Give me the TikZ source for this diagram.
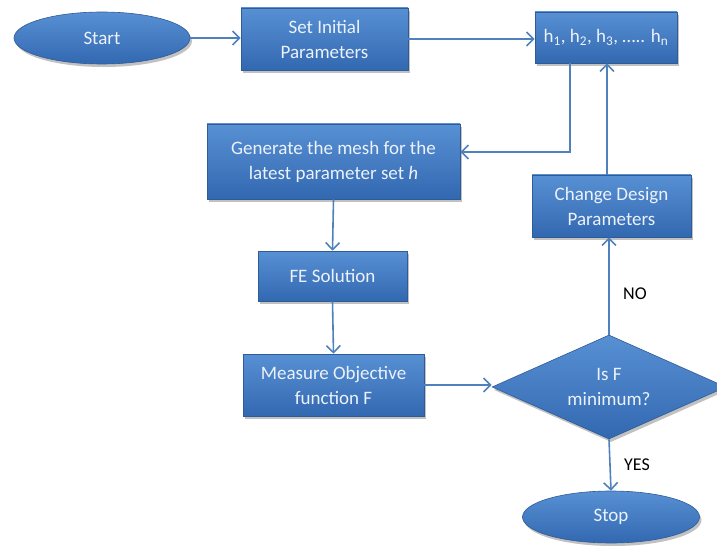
\documentclass[tikz,border=0pt]{standalone}
\usepackage{fontspec}
\setmainfont{Carlito}
\usetikzlibrary{shapes.geometric,arrows.meta,shadows}
\definecolor{boxtop}{RGB}{88,144,212}
\definecolor{boxbot}{RGB}{50,104,176}
\definecolor{boxline}{RGB}{46,92,152}
\definecolor{boxtext}{RGB}{236,242,250}
\definecolor{wire}{RGB}{79,129,189}
\tikzset{
  base/.style={draw=boxline, line width=0.6pt, top color=boxtop, bottom color=boxbot,
    text=boxtext, align=center, inner sep=0pt,
    font=\fontsize{19}{25}\selectfont,
    drop shadow={shadow xshift=2pt, shadow yshift=-3pt, opacity=0.35, fill=black!70}},
  procbox/.style={base, rectangle},
  termnode/.style={base, ellipse},
  decnode/.style={base, diamond, aspect=2.25},
  arr/.style={draw=wire, line width=1.6pt, -{Straight Barb[length=7pt, width=14pt, line width=1.6pt]}},
  tag/.style={font=\fontsize{18}{21}\selectfont, text=black}
}
\begin{document}
\begin{tikzpicture}[x=1pt, y=-1pt]
\useasboundingbox (0,0) rectangle (717,548);

% terminals, process boxes and the decision
\node[termnode, minimum width=176pt, minimum height=52pt] (start) at (102,38) {Start};
\node[procbox, minimum width=167pt, minimum height=62pt] (setp) at (324.5,39) {Set Initial\\Parameters};
\node[procbox, minimum width=142pt, minimum height=51pt] (hset) at (606,37.5)
  {h\textsubscript{1}, h\textsubscript{2}, h\textsubscript{3}, ….. h\textsubscript{n}};
\node[procbox, minimum width=253pt, minimum height=75pt] (gen) at (333.5,161.5)
  {Generate the mesh for the\\latest parameter set \textit{h}};
\node[procbox, minimum width=149pt, minimum height=50pt] (fe) at (332.5,276) {FE Solution};
\node[procbox, minimum width=181pt, minimum height=62pt] (meas) at (333.5,385)
  {Measure Objective\\function F};
\node[decnode, minimum width=234pt, minimum height=104pt] (dec) at (609,387) {Is F\\minimum?};
\node[procbox, minimum width=159pt, minimum height=62pt] (chg) at (611.5,206)
  {Change Design\\Parameters};
\node[termnode, minimum width=177pt, minimum height=52pt] (stop) at (611,517) {Stop};

% branch labels
\node[tag] (no) at (635,294) {NO};
\node[tag] (yes) at (637,465) {YES};

% connectors
\draw[arr] (start.east) -- (start.east -| setp.west);
\draw[arr] (setp.east) -- (setp.east -| hset.west);
\draw[arr] ([xshift=-36pt]hset.south) |- ([yshift=9.5pt]gen.east);
\draw[arr] (gen.south) -- (fe.north);
\draw[arr] (fe.south) -- (meas.north);
\draw[arr] (meas.east) -- (meas.east -| dec.west);
\draw[arr] (dec.north) -- (dec.north |- chg.south);
\draw[arr] ([xshift=-4.5pt]chg.north) -- ([xshift=-4.5pt]chg.north |- hset.south);
\draw[arr] (dec.south) -- (stop.north);
\end{tikzpicture}
\end{document}
